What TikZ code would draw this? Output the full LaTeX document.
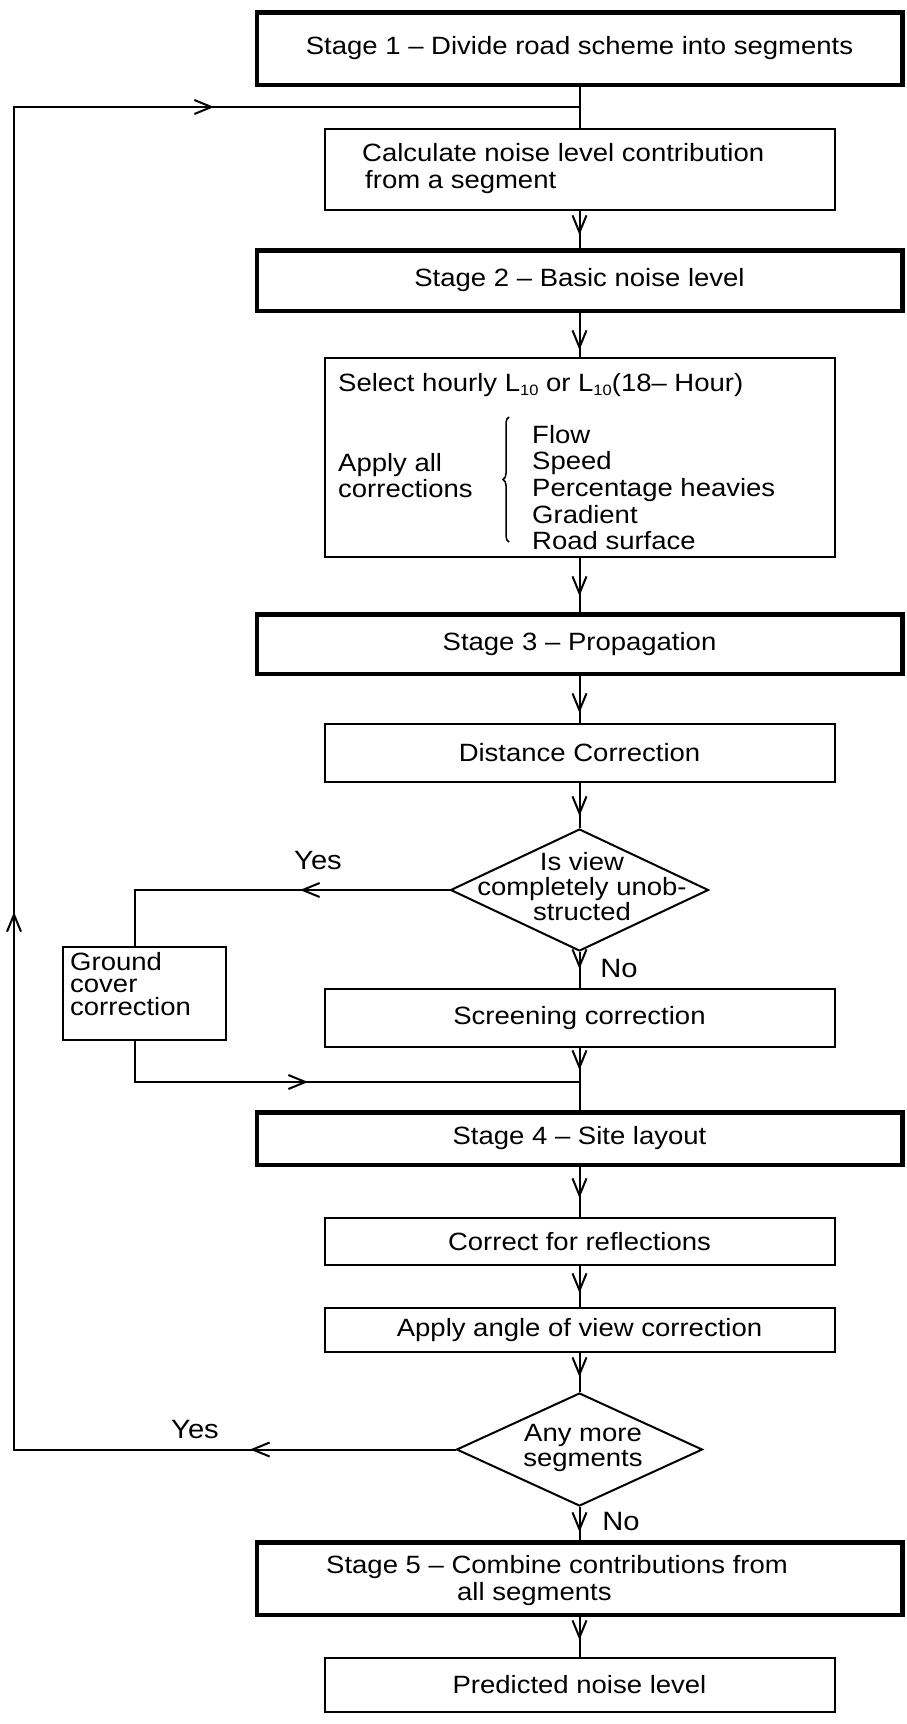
\documentclass[tikz,border=0pt]{standalone}
\usepackage{fontspec}
\setmainfont{Liberation Sans}[FakeStretch=1.1]
\usetikzlibrary{arrows.meta,shapes.geometric,decorations.markings,decorations.pathreplacing}
\newcommand{\lsub}[1]{\raisebox{-0.35ex}{\fontsize{15}{15}\selectfont #1}}
\begin{document}
\begin{tikzpicture}[x=1pt,y=-1pt,
  >={Straight Barb[length=17pt,width=14pt]},
  every node/.style={font=\fontsize{25}{30}\selectfont, inner sep=0pt},
  sbox/.style={draw, rectangle, line width=4.5pt, minimum width=645.5pt},
  tbox/.style={draw, rectangle, line width=2pt, minimum width=510pt},
  dia/.style={draw, diamond, line width=2pt},
  conn/.style={line width=2pt},
  arrat/.style={postaction={decorate}, decoration={markings, mark=at position #1 with {\arrow{>}}}},
  lbl/.style={anchor=base, font=\fontsize{26.5}{30}\selectfont}
]
\useasboundingbox (0,0) rectangle (906,1724);

% boxes
\node[sbox, minimum height=72.5pt] (s1) at (579.5,48.5) {Stage 1 – Divide road scheme into segments};
\node[tbox, minimum height=81pt] (calc) at (579.5,169.5) {};
\node[anchor=base west, font=\fontsize{25}{27}\selectfont] (calct) at (362,161)
  {\parbox[t]{460pt}{\raggedright Calculate noise level contribution\\\hspace*{3pt}from a segment}};
\node[sbox, minimum height=60.5pt] (s2) at (579.5,280.5) {Stage 2 – Basic noise level};
\node[tbox, minimum height=199pt] (sel) at (579.5,457.5) {};
\node[anchor=base west] (selt) at (338,391) {Select hourly L\lsub{10} or L\lsub{10}(18– Hour)};
\node[anchor=base west, font=\fontsize{25}{26.7}\selectfont] (applyt) at (338,471)
  {\parbox[t]{160pt}{\raggedright Apply all\\corrections}};
\node[anchor=base west, font=\fontsize{25}{26.7}\selectfont] (listt) at (532,443)
  {\parbox[t]{290pt}{\raggedright Flow\\Speed\\Percentage heavies\\Gradient\\Road surface}};
\draw[line width=1.5pt, decorate, decoration={brace, amplitude=6pt}] (509,542) -- (509,417);
\node[sbox, minimum height=59.5pt] (s3) at (579.5,644) {Stage 3 – Propagation};
\node[tbox, minimum height=58pt] (dist) at (579.5,753) {Distance Correction};
\node[dia, minimum width=258pt, minimum height=122pt] (d1) at (579.5,890) {};
\node[anchor=base, font=\fontsize{25}{25}\selectfont] (d1t) at (582,870)
  {\parbox[t]{250pt}{\centering Is view\\completely unob-\\structed}};
\node[draw, line width=2pt, minimum width=163pt, minimum height=93pt] (gc) at (144.5,993.5) {};
\node[anchor=base west, font=\fontsize{25}{22.5}\selectfont] (gct) at (70,970)
  {\parbox[t]{150pt}{\raggedright Ground\\cover\\correction}};
\node[tbox, minimum height=58pt] (scr) at (579.5,1018) {Screening correction};
\node[sbox, minimum height=52.5pt] (s4) at (579.5,1138.5) {Stage 4 – Site layout};
\node[tbox, minimum height=47pt] (cor) at (579.5,1241.5) {Correct for reflections};
\node[tbox, minimum height=44pt] (app) at (579.5,1330) {Apply angle of view correction};
\node[dia, minimum width=246pt, minimum height=113pt] (d2) at (579.5,1449.5) {};
\node[anchor=base, font=\fontsize{25}{25}\selectfont] (d2t) at (583,1441)
  {\parbox[t]{200pt}{\centering Any more\\segments}};
\node[sbox, minimum height=72.5pt] (s5) at (579.5,1578.5) {};
\node[anchor=base west, font=\fontsize{25}{27}\selectfont] (s5t) at (326,1573)
  {\parbox[t]{560pt}{\raggedright Stage 5 – Combine contributions from\\\hspace*{131pt}all segments}};
\node[tbox, minimum height=54pt] (pred) at (579.5,1685) {Predicted noise level};

% labels
\node[lbl] (yes1) at (318,869) {Yes};
\node[lbl] (no1) at (619,977) {No};
\node[lbl] (yes2) at (195,1438) {Yes};
\node[lbl] (no2) at (621,1530) {No};

% helper coordinates
\coordinate (j1) at (579.5,107);
\coordinate (lx) at (14,107);
\coordinate (gx) at (135,890);
\coordinate (j2) at (579.5,1082);

% connectors
\draw[conn] (s1.south) -- (j1) -- (calc.north);
\draw[conn, arrat=-13pt] (calc.south) -- (s2.north);
\draw[conn, arrat=-7pt] (s2.south) -- (sel.north);
\draw[conn, arrat=-16pt] (sel.south) -- (s3.north);
\draw[conn, arrat=-10pt] (s3.south) -- (dist.north);
\draw[conn, arrat=-12pt] (dist.south) -- (d1.north);
\draw[conn, arrat=-19pt] (d1.south) -- (scr.north);
\draw[conn, arrat=-12pt] (scr.south) -- (j2);
\draw[conn] (j2) -- (s4.north);
\draw[conn, arrat=-19pt] (s4.south) -- (cor.north);
\draw[conn, arrat=-14pt] (cor.south) -- (app.north);
\draw[conn, arrat=-15pt] (app.south) -- (d2.north);
\draw[conn, arrat=-8pt] (d2.south) -- (s5.north);
\draw[conn, arrat=-17pt] (s5.south) -- (pred.north);

\draw[conn, arrat=149.5pt] (d1.west) -- (d1.west -| gx) -- (gx |- gc.north);
\draw[conn, arrat=214pt] (gx |- gc.south) -- (gx |- j2) -- (j2);

\draw[conn, postaction={decorate}, decoration={markings,
    mark=at position 205.5pt with {\arrow{>}},
    mark=at position 979pt with {\arrow{>}},
    mark=at position 1984pt with {\arrow{>}}}]
  (d2.west) -- (d2.west -| lx) -- (lx) -- (j1);
\end{tikzpicture}
\end{document}
